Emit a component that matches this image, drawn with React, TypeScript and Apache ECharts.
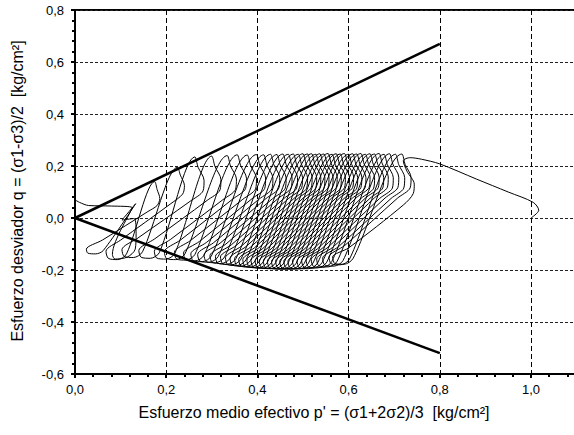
import React, { useEffect, useRef } from "react";
import * as echarts from "echarts";

type Pt = [number, number];

// Initial loading from consolidation state (p', q)
const initialPath: Pt[] = [
  [1.0, 0.0], [1.017, 0.03], [1.005, 0.06], [0.95, 0.1], [0.88, 0.15], [0.8, 0.208],
  [0.76, 0.226], [0.735, 0.232], [0.72, 0.22], [0.728, 0.18], [0.744, 0.13], [0.742, 0.095],
  [0.72, 0.05], [0.6, -0.115], [0.565, -0.15], [0.57, -0.175], [0.59, -0.178], [0.61, -0.155],
];

// Cyclic loops (peak -> unloading -> trough loop)
const cycles: Pt[][] = [
  [[0.717,0.246],[0.724,0.206],[0.737,0.156],[0.735,0.116],[0.707,0.076],[0.592,-0.105],[0.557,-0.15],[0.562,-0.176],[0.582,-0.18],[0.602,-0.158]],
  [[0.703,0.245],[0.71,0.205],[0.723,0.155],[0.721,0.115],[0.693,0.075],[0.578,-0.11],[0.543,-0.155],[0.548,-0.181],[0.568,-0.185],[0.588,-0.163]],
  [[0.69,0.247],[0.697,0.207],[0.71,0.157],[0.708,0.117],[0.68,0.077],[0.565,-0.113],[0.53,-0.158],[0.535,-0.184],[0.555,-0.188],[0.575,-0.166]],
  [[0.678,0.245],[0.685,0.205],[0.698,0.155],[0.696,0.115],[0.668,0.075],[0.553,-0.115],[0.518,-0.16],[0.523,-0.186],[0.543,-0.19],[0.563,-0.168]],
  [[0.667,0.248],[0.674,0.208],[0.687,0.158],[0.685,0.118],[0.657,0.078],[0.542,-0.117],[0.507,-0.162],[0.512,-0.188],[0.532,-0.192],[0.552,-0.17]],
  [[0.657,0.246],[0.664,0.206],[0.677,0.156],[0.675,0.116],[0.647,0.076],[0.532,-0.118],[0.497,-0.163],[0.502,-0.189],[0.522,-0.193],[0.542,-0.171]],
  [[0.647,0.247],[0.654,0.207],[0.667,0.157],[0.665,0.117],[0.637,0.077],[0.522,-0.12],[0.487,-0.165],[0.492,-0.191],[0.512,-0.195],[0.532,-0.173]],
  [[0.637,0.245],[0.644,0.205],[0.657,0.155],[0.655,0.115],[0.627,0.075],[0.512,-0.12],[0.477,-0.165],[0.482,-0.191],[0.502,-0.195],[0.522,-0.173]],
  [[0.627,0.248],[0.634,0.208],[0.647,0.158],[0.645,0.118],[0.617,0.078],[0.502,-0.121],[0.467,-0.166],[0.472,-0.192],[0.492,-0.196],[0.512,-0.174]],
  [[0.618,0.246],[0.625,0.206],[0.638,0.156],[0.636,0.116],[0.608,0.076],[0.493,-0.121],[0.458,-0.166],[0.463,-0.192],[0.483,-0.196],[0.503,-0.174]],
  [[0.609,0.247],[0.616,0.207],[0.629,0.157],[0.627,0.117],[0.599,0.077],[0.484,-0.122],[0.449,-0.167],[0.454,-0.193],[0.474,-0.197],[0.494,-0.175]],
  [[0.6,0.245],[0.607,0.205],[0.62,0.155],[0.618,0.115],[0.59,0.075],[0.475,-0.121],[0.44,-0.166],[0.445,-0.192],[0.465,-0.196],[0.485,-0.174]],
  [[0.591,0.248],[0.598,0.208],[0.611,0.158],[0.609,0.118],[0.581,0.078],[0.466,-0.122],[0.431,-0.167],[0.436,-0.193],[0.456,-0.197],[0.476,-0.175]],
  [[0.582,0.246],[0.589,0.206],[0.602,0.156],[0.6,0.116],[0.572,0.076],[0.457,-0.121],[0.422,-0.166],[0.427,-0.192],[0.447,-0.196],[0.467,-0.174]],
  [[0.573,0.247],[0.58,0.207],[0.593,0.157],[0.591,0.117],[0.563,0.077],[0.448,-0.12],[0.413,-0.165],[0.418,-0.191],[0.438,-0.195],[0.458,-0.173]],
  [[0.564,0.245],[0.571,0.205],[0.584,0.155],[0.582,0.115],[0.554,0.075],[0.439,-0.12],[0.404,-0.165],[0.409,-0.191],[0.429,-0.195],[0.449,-0.173]],
  [[0.555,0.248],[0.562,0.208],[0.575,0.158],[0.573,0.118],[0.545,0.078],[0.43,-0.119],[0.395,-0.164],[0.4,-0.19],[0.42,-0.194],[0.44,-0.172]],
  [[0.546,0.246],[0.553,0.206],[0.566,0.156],[0.564,0.116],[0.536,0.076],[0.421,-0.118],[0.386,-0.163],[0.391,-0.189],[0.411,-0.193],[0.431,-0.171]],
  [[0.537,0.247],[0.544,0.207],[0.557,0.157],[0.555,0.117],[0.527,0.077],[0.412,-0.117],[0.377,-0.162],[0.382,-0.188],[0.402,-0.192],[0.422,-0.17]],
  [[0.528,0.245],[0.535,0.205],[0.548,0.155],[0.546,0.115],[0.518,0.075],[0.403,-0.115],[0.368,-0.16],[0.373,-0.186],[0.393,-0.19],[0.413,-0.168]],
  [[0.519,0.247],[0.526,0.207],[0.539,0.157],[0.537,0.117],[0.509,0.077],[0.394,-0.114],[0.359,-0.159],[0.364,-0.185],[0.384,-0.189],[0.404,-0.167]],
  [[0.51,0.246],[0.517,0.206],[0.53,0.156],[0.528,0.116],[0.5,0.076],[0.385,-0.112],[0.35,-0.157],[0.355,-0.183],[0.375,-0.187],[0.395,-0.165]],
  [[0.5,0.247],[0.507,0.207],[0.52,0.157],[0.518,0.117],[0.49,0.077],[0.375,-0.11],[0.34,-0.155],[0.345,-0.181],[0.365,-0.185],[0.385,-0.163]],
  [[0.49,0.245],[0.497,0.205],[0.51,0.155],[0.508,0.115],[0.48,0.075],[0.365,-0.108],[0.33,-0.153],[0.335,-0.179],[0.355,-0.183],[0.375,-0.161]],
  [[0.479,0.246],[0.486,0.206],[0.499,0.156],[0.497,0.116],[0.469,0.076],[0.354,-0.105],[0.319,-0.15],[0.324,-0.176],[0.344,-0.18],[0.364,-0.158]],
  [[0.468,0.245],[0.475,0.205],[0.488,0.155],[0.486,0.115],[0.458,0.075],[0.343,-0.103],[0.308,-0.148],[0.313,-0.174],[0.333,-0.178],[0.353,-0.156]],
  [[0.456,0.246],[0.463,0.206],[0.476,0.156],[0.474,0.116],[0.446,0.076],[0.331,-0.1],[0.296,-0.145],[0.301,-0.171],[0.321,-0.175],[0.341,-0.153]],
  [[0.443,0.244],[0.45,0.204],[0.463,0.154],[0.461,0.114],[0.433,0.074],[0.318,-0.097],[0.283,-0.142],[0.288,-0.168],[0.308,-0.172],[0.328,-0.15]],
  [[0.429,0.245],[0.436,0.205],[0.449,0.155],[0.447,0.115],[0.419,0.075],[0.304,-0.095],[0.269,-0.14],[0.274,-0.166],[0.294,-0.17],[0.314,-0.148]],
  [[0.414,0.243],[0.421,0.203],[0.434,0.153],[0.432,0.113],[0.404,0.073],[0.289,-0.093],[0.254,-0.138],[0.259,-0.164],[0.279,-0.168],[0.299,-0.146]],
  [[0.398,0.244],[0.405,0.204],[0.418,0.154],[0.416,0.114],[0.388,0.074],[0.273,-0.09],[0.238,-0.135],[0.243,-0.161],[0.263,-0.165],[0.283,-0.143]],
  [[0.378,0.242],[0.385,0.202],[0.398,0.152],[0.396,0.112],[0.368,0.072],[0.253,-0.087],[0.218,-0.132],[0.223,-0.158],[0.243,-0.162],[0.263,-0.14]],
  [[0.356,0.243],[0.363,0.203],[0.376,0.153],[0.374,0.113],[0.346,0.073],[0.231,-0.085],[0.196,-0.13],[0.201,-0.156],[0.221,-0.16],[0.241,-0.138]],
  [[0.334,0.24],[0.341,0.2],[0.354,0.15],[0.352,0.11],[0.324,0.07],[0.209,-0.083],[0.174,-0.128],[0.179,-0.154],[0.199,-0.158],[0.219,-0.136]],
  [[0.3,0.238],[0.307,0.198],[0.32,0.148],[0.318,0.108],[0.29,0.068],[0.175,-0.08],[0.14,-0.125],[0.145,-0.151],[0.165,-0.155],[0.185,-0.133]],
  [[0.263,0.235],[0.27,0.195],[0.283,0.145],[0.281,0.105],[0.253,0.065],[0.138,-0.077],[0.103,-0.122],[0.108,-0.148],[0.128,-0.152],[0.148,-0.13]],
  [[0.225,0.195],[0.231,0.165],[0.24,0.125],[0.236,0.092],[0.21,0.055],[0.1,-0.085],[0.068,-0.128],[0.073,-0.155],[0.093,-0.16],[0.113,-0.138]],
  [[0.175,0.14],[0.18,0.11],[0.186,0.075],[0.18,0.048],[0.16,0.025],[0.06,-0.085],[0.025,-0.12],[0.028,-0.135],[0.045,-0.138],[0.062,-0.125]],
];

// Final part near p' = 0 (liquefaction)
const finalPath: Pt[] = [
  [0.133, 0.055], [0.103, -0.008], [0.13, -0.002], [0.134, -0.06], [0.132, -0.12], [0.115, -0.15],
  [0.088, -0.158], [0.082, -0.14], [0.125, 0.04], [0.08, 0.046], [0.03, 0.048], [0.01, 0.06], [0.0, 0.07],
];

const upperLine: Pt[] = [[0, 0], [0.8, 0.67]];
const lowerLine: Pt[] = [[0, 0], [0.8, -0.52]];

const xTitle = "Esfuerzo medio efectivo p' = (σ1+2σ2)/3  [kg/cm²]";
const yTitle = "Esfuerzo desviador q = (σ1-σ3)/2  [kg/cm²]";

const FONT = "'Liberation Sans', Arial, sans-serif";
const fmt = (v: number) => v.toFixed(1).replace(".", ",");
const fmtX = (v: number) => (v > 1.05 ? "" : fmt(v));

export default function App() {
  const ref = useRef<HTMLDivElement>(null);
  useEffect(() => {
    if (!ref.current) return;
    const chart = echarts.init(ref.current, undefined, { renderer: "svg" });
    const stressPath: Pt[] = [...initialPath, ...cycles.flat(), ...finalPath];
    const tickStyle = { color: "#000", width: 2 };
    chart.setOption({
      animation: false,
      grid: {
        left: 75, top: 10, width: 547.2, height: 364,
        containLabel: false, outerBoundsMode: "none",
        show: true, borderColor: "#000", borderWidth: 2, backgroundColor: "transparent",
      },
      xAxis: {
        type: "value", min: 0, max: 1.2, interval: 0.2,
        axisLine: { onZero: false, lineStyle: { color: "#000", width: 2 } },
        axisTick: { show: true, length: 4, lineStyle: tickStyle },
        minorTick: { show: true, splitNumber: 5, length: 3, lineStyle: tickStyle },
        axisLabel: { color: "#000", fontFamily: FONT, fontSize: 13, margin: 9, formatter: fmtX, showMaxLabel: false },
        splitLine: { show: true, lineStyle: { color: "#000", width: 1, type: [5, 3] } },
      },
      yAxis: {
        type: "value", min: -0.6, max: 0.8, interval: 0.2,
        axisLine: { onZero: false, lineStyle: { color: "#000", width: 2 } },
        axisTick: { show: true, length: 4, lineStyle: tickStyle },
        minorTick: { show: true, splitNumber: 5, length: 3, lineStyle: tickStyle },
        axisLabel: { color: "#000", fontFamily: FONT, fontSize: 13, margin: 11, formatter: fmt },
        splitLine: { show: true, lineStyle: { color: "#222", width: 1, type: [3, 2] } },
      },
      graphic: [
        {
          type: "text", x: 314, y: 412,
          style: { text: xTitle, fontFamily: FONT, fontSize: 16, fill: "#000", align: "center", verticalAlign: "middle" },
        },
        {
          type: "text", x: 17, y: 191, rotation: Math.PI / 2,
          style: { text: yTitle, fontFamily: FONT, fontSize: 16, fill: "#000", align: "center", verticalAlign: "middle" },
        },
      ],
      series: [
        {
          type: "line", data: stressPath, showSymbol: false, symbol: "none", smooth: 0.3,
          lineStyle: { color: "#000", width: 1 }, z: 3,
        },
        {
          type: "line", data: upperLine, showSymbol: false, symbol: "none",
          lineStyle: { color: "#000", width: 2.5 }, z: 4,
        },
        {
          type: "line", data: lowerLine, showSymbol: false, symbol: "none",
          lineStyle: { color: "#000", width: 2.5 }, z: 4,
        },
      ],
    });
    return () => chart.dispose();
  }, []);
  return (
    <div
      ref={ref}
      style={{ position: "fixed", left: 0, top: 0, width: 574, height: 435, background: "#fff" }}
    />
  );
}
